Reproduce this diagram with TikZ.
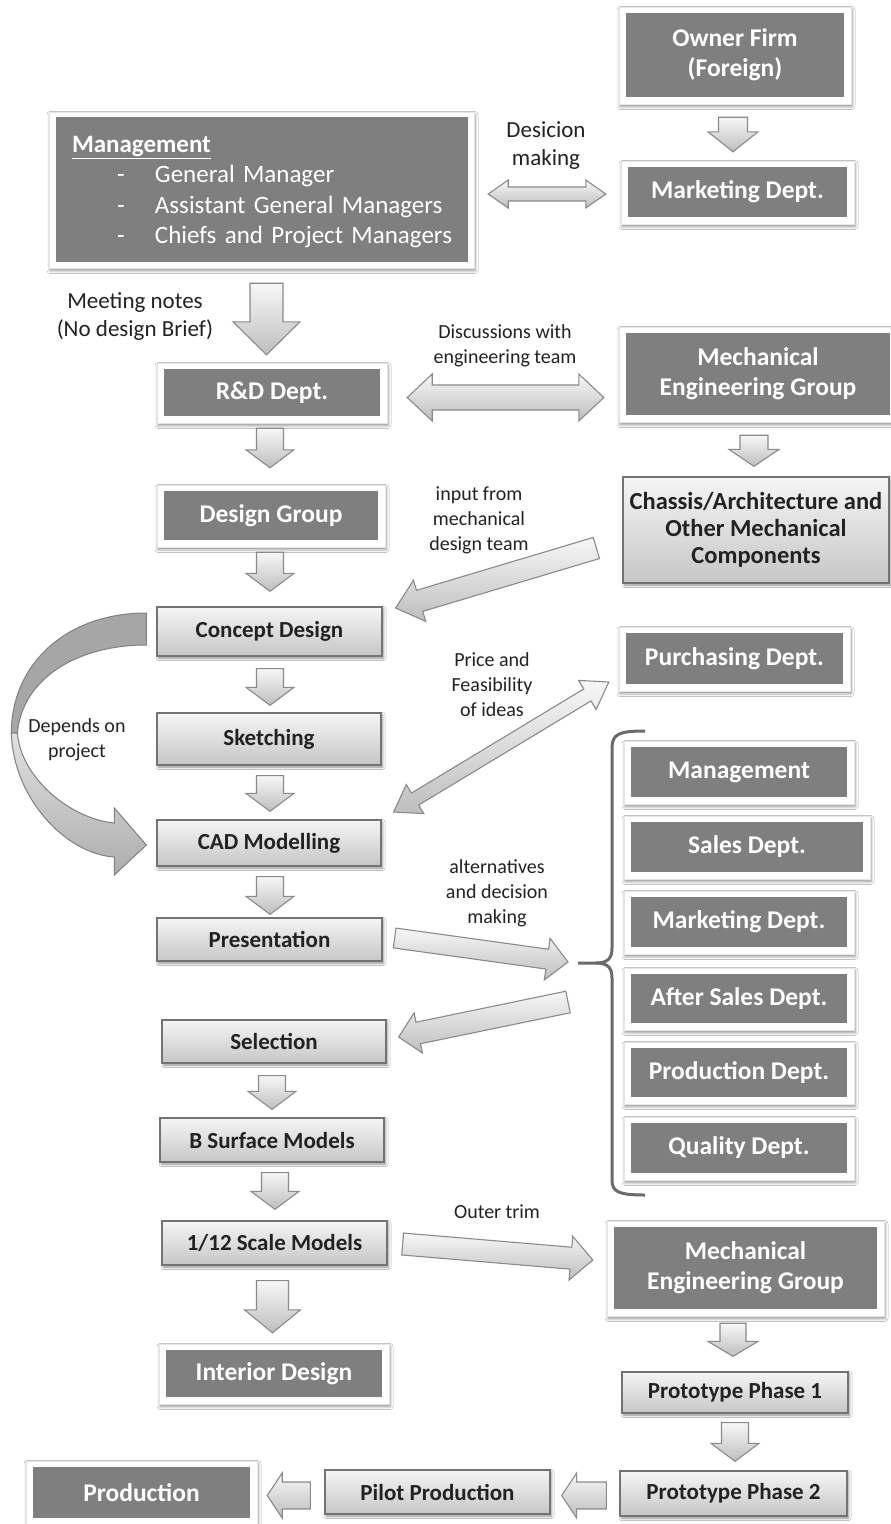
\documentclass[tikz,border=0pt]{standalone}
\usepackage{fontspec}
\setmainfont{Carlito}
\usetikzlibrary{calc,shadows.blur}
\definecolor{dk}{HTML}{7F7F7F}
\definecolor{lbtop}{HTML}{F5F5F5}
\definecolor{lbbot}{HTML}{C6C6C6}
\definecolor{lbdraw}{HTML}{737373}
\definecolor{arone}{HTML}{F7F7F7}
\definecolor{artwo}{HTML}{BEBEBE}
\definecolor{ardraw}{HTML}{8A8A8A}
\definecolor{txt}{HTML}{222222}
\tikzset{
  frm/.style={fill=white, draw=black!10, line width=0.5pt,
    blur shadow={shadow xshift=1pt, shadow yshift=-2.5pt, shadow blur radius=3pt, shadow opacity=45}},
  dbox/.style={fill=dk, text=white, font=\bfseries\fontsize{25.5}{30}\selectfont, align=center, inner sep=0pt},
  lbox/.style={top color=lbtop, bottom color=lbbot, draw=lbdraw, line width=1.3pt, text=txt,
    font=\bfseries\fontsize{23}{27}\selectfont, align=center, inner sep=0pt,
    blur shadow={shadow xshift=1.5pt, shadow yshift=-2pt, shadow blur radius=2.5pt, shadow opacity=45}},
  barrow/.style={top color=arone, bottom color=artwo, draw=ardraw, line width=1.1pt, line join=miter},
  lbl/.style={text=txt, font=\fontsize{20}{25}\selectfont, align=center, inner sep=0pt},
  lblbig/.style={text=txt, font=\fontsize{23}{28}\selectfont, align=center, inner sep=0pt},
  brk/.style={draw=black!58, line width=3pt},
  backband/.style={fill=black!35, draw=black!50, line width=1pt},
  frontband/.style={top color=black!12, bottom color=black!32, draw=black!50, line width=1pt}
}
\newcommand\DarkBox[6]{%
  \path[frm] (#2-7,#3-6) rectangle (#4+7,#5+7);
  \node[dbox, minimum width={(#4-#2)*1pt}, minimum height={(#5-#3)*1pt}] (#1) at ({(#2+#4)/2},{(#3+#5)/2}) {#6};}
\newcommand\LightBox[7][]{%
  \node[lbox, #1, minimum width={(#5-#3)*1pt}, minimum height={(#6-#4)*1pt}] (#2) at ({(#3+#5)/2},{(#4+#6)/2}) {#7};}
\newcommand\MgItem[1]{\mbox{\makebox[83pt][l]{\hspace*{45pt}-}#1}}
% single block arrow: start, end, shaft half width, head half width, head length
\newcommand\BArrow[5]{%
  \draw[barrow] let \p1=#1, \p2=#2, \n1={atan2(\y2-\y1,\x2-\x1)}, \n2={veclen(\x2-\x1,\y2-\y1)} in
    [shift={(\x1,\y1)}, rotate=\n1]
    (0pt,{-#3*1pt}) -- ({(\n2-#5)*1pt},{-#3*1pt}) -- ({(\n2-#5)*1pt},{-#4*1pt}) -- ({\n2*1pt},0pt)
    -- ({(\n2-#5)*1pt},{#4*1pt}) -- ({(\n2-#5)*1pt},{#3*1pt}) -- (0pt,{#3*1pt}) -- cycle;}
% double block arrow
\newcommand\DArrow[5]{%
  \draw[barrow] let \p1=#1, \p2=#2, \n1={atan2(\y2-\y1,\x2-\x1)}, \n2={veclen(\x2-\x1,\y2-\y1)} in
    [shift={(\x1,\y1)}, rotate=\n1]
    (0pt,0pt) -- ({#5*1pt},{#4*1pt}) -- ({#5*1pt},{#3*1pt}) -- ({(\n2-#5)*1pt},{#3*1pt})
    -- ({(\n2-#5)*1pt},{#4*1pt}) -- ({\n2*1pt},0pt) -- ({(\n2-#5)*1pt},{-#4*1pt})
    -- ({(\n2-#5)*1pt},{-#3*1pt}) -- ({#5*1pt},{-#3*1pt}) -- ({#5*1pt},{-#4*1pt}) -- cycle;}
\begin{document}
\begin{tikzpicture}[x=1pt,y=-1pt]
\fill[white] (0,0) rectangle (891,1524);
\useasboundingbox (0,0) rectangle (891,1524);

% ---- dark boxes
\DarkBox{own}{626}{13}{844}{97}{Owner Firm\\(Foreign)}
\DarkBox{mktA}{628}{167}{847}{217}{Marketing Dept.}
\path[frm] (49,112) rectangle (474,268);
\node[dbox, minimum width=412pt, minimum height=145pt, text width=380pt, align=left,
  font=\fontsize{25}{30.3}\selectfont] (mgmt) at (262,189.5)
  {\rule{0pt}{21pt}\underline{\textbf{Management}}\\
   \MgItem{General Manager}\\
   \MgItem{Assistant General Managers}\\
   \MgItem{Chiefs and Project Managers}};
\DarkBox{rd}{164}{369}{380}{416}{R\&D Dept.}
\DarkBox{megA}{626}{333}{890}{415}{Mechanical\\Engineering Group}
\DarkBox{dg}{164}{491}{378}{540}{Design Group}
\DarkBox{pur}{626}{633}{843}{684}{Purchasing Dept.}
\DarkBox{gA}{631}{747}{847}{797}{Management}
\DarkBox{gB}{631}{822}{863}{872}{Sales Dept.}
\DarkBox{gC}{631}{897}{847}{947}{Marketing Dept.}
\DarkBox{gD}{631}{974}{847}{1023}{After Sales Dept.}
\DarkBox{gE}{631}{1048}{847}{1097}{Production Dept.}
\DarkBox{gF}{631}{1123}{847}{1173}{Quality Dept.}
\DarkBox{megB}{614}{1227}{877}{1309}{Mechanical\\Engineering Group}
\DarkBox{int}{166}{1350}{382}{1397}{Interior Design}
\DarkBox{prod}{33}{1467}{250}{1518}{Production}

% ---- light boxes
\LightBox[font=\bfseries\fontsize{24.5}{27}\selectfont]{chs}{623}{477}{889}{583}{Chassis/Architecture and\\Other Mechanical\\Components}
\LightBox{cd}{157}{607}{382}{656}{Concept Design}
\LightBox{sk}{157}{713}{381}{765}{Sketching}
\LightBox{cad}{157}{820}{381}{866}{CAD Modelling}
\LightBox{pres}{157}{918}{382}{961}{Presentation}
\LightBox{sel}{162}{1020}{386}{1063}{Selection}
\LightBox{bs}{160}{1118}{384}{1162}{B Surface Models}
\LightBox{sc}{162}{1221}{387}{1265}{1/12 Scale Models}
\LightBox{ppA}{622}{1372}{848}{1413}{Prototype Phase 1}
\LightBox{ppB}{620}{1471}{847}{1516}{Prototype Phase 2}
\LightBox{pil}{325}{1470}{550}{1514}{Pilot Production}

% ---- bracket
\coordinate (br) at (578,963);
\draw[brk] (645,731) .. controls (619,731) and (612,734) .. (612,748) -- (612,948)
  .. controls (612,958) and (608,963) .. (596,963) -- (br);
\draw[brk] (596,963) .. controls (608,963) and (612,968) .. (612,978) -- (612,1180)
  .. controls (612,1192) and (619,1195) .. (645,1195);

% ---- block arrows
\BArrow{($(own.south)+(-2,20)$)}{($(mktA.north)+(-4.5,-15)$)}{14.5}{25}{20}
\DArrow{($(mgmt.east)+(20,4.5)$)}{($(mktA.west)+(-22,2)$)}{7}{14}{20}
\BArrow{($(mgmt.south)+(4.5,21)$)}{($(rd.north)+(-5.5,-14)$)}{16.5}{33.5}{33}
\DArrow{($(rd.east)+(27,5)$)}{($(megA.west)+(-22,23.5)$)}{12.5}{23.5}{25}
\BArrow{($(megA.south)+(-4,20)$)}{($(chs.north)+(-2,-10)$)}{14}{25}{17}
\BArrow{($(rd.south)+(-2,12)$)}{($(dg.north)+(-1,-23)$)}{13.5}{24}{18}
\BArrow{($(dg.south)+(-1,12)$)}{($(cd.north)+(0.5,-15)$)}{13.5}{24}{18}
\BArrow{($(chs.west)+(-26,18)$)}{($(cd.east)+(13,-23.5)$)}{11}{21.5}{25}
\BArrow{($(cd.south)+(0.5,12)$)}{($(sk.north)+(1,-7)$)}{13.5}{24}{18}
\BArrow{($(sk.south)+(1,10)$)}{($(cad.north)+(1,-8)$)}{13.5}{24}{18}
\DArrow{($(cad.east)+(12,-31)$)}{($(pur.west)+(-17,23.5)$)}{7}{17}{25}
\BArrow{($(cad.south)+(1,10)$)}{($(pres.north)+(0.5,-3)$)}{13.5}{24}{18}
\BArrow{($(pres.east)+(12,-1.5)$)}{($(br)+(-10,-1)$)}{10}{21}{21}
\BArrow{($(br)+(-10,39)$)}{($(sel.east)+(12,-4.5)$)}{11}{20.5}{20}
\BArrow{($(sel.south)+(-2,12)$)}{($(bs.north)+(0,-8)$)}{13.5}{24}{18}
\BArrow{($(bs.south)+(3,10)$)}{($(sc.north)+(0.5,-11)$)}{13.5}{24}{18}
\BArrow{($(sc.east)+(15,1)$)}{($(megB.west)+(-21,-8)$)}{11}{22}{22}
\BArrow{($(sc.south)+(-2,15)$)}{($(int.north)+(-1.5,-17)$)}{16}{28}{23}
\BArrow{($(megB.south)+(-12.5,14)$)}{($(ppA.north)+(-2,-15)$)}{13}{25}{15}
\BArrow{($(ppA.south)+(0,9)$)}{($(ppB.north)+(1.5,-9)$)}{13.5}{24}{18}
\BArrow{($(ppB.west)+(-13,2)$)}{($(pil.east)+(11,3.5)$)}{13.5}{22.5}{15}
\BArrow{($(pil.west)+(-14,3.5)$)}{($(prod.east)+(17,3)$)}{13.5}{22.5}{15}

% ---- curved arrow (Concept Design -> CAD Modelling)
\coordinate (cs) at ($(cd.west)+(-10,-2.5)$);
\begin{scope}[shift={(cs)}]
\path[backband] (0,-16) .. controls (-80,-16) and (-135,35) .. (-135,104) -- (-129,104)
  .. controls (-124,50) and (-70,16) .. (0,16) -- cycle;
\path[frontband] (-135,104) .. controls (-133,170) and (-80,225) .. (-32,228) -- (-32,246) -- (0,216)
  -- (-32,179) -- (-32,194) .. controls (-75,190) and (-125,150) .. (-129,104) -- cycle;
\end{scope}

% ---- labels
\node[lblbig] (l1) at (546,146) {Desicion\\making};
\node[lblbig] (l2) at (135,317) {Meeting notes\\(No design Brief)};
\node[lbl] (l3) at (505,346) {Discussions with\\engineering team};
\node[lbl] (l4) at (479,520) {input from\\mechanical\\design team};
\node[lbl] (l5) at (492,685) {Price and\\Feasibility\\of ideas};
\node[lbl] (l6) at (77,740) {Depends on\\project};
\node[lbl] (l7) at (497,893) {alternatives\\and decision\\making};
\node[lbl] (l8) at (497,1212) {Outer trim};
\end{tikzpicture}
\end{document}
